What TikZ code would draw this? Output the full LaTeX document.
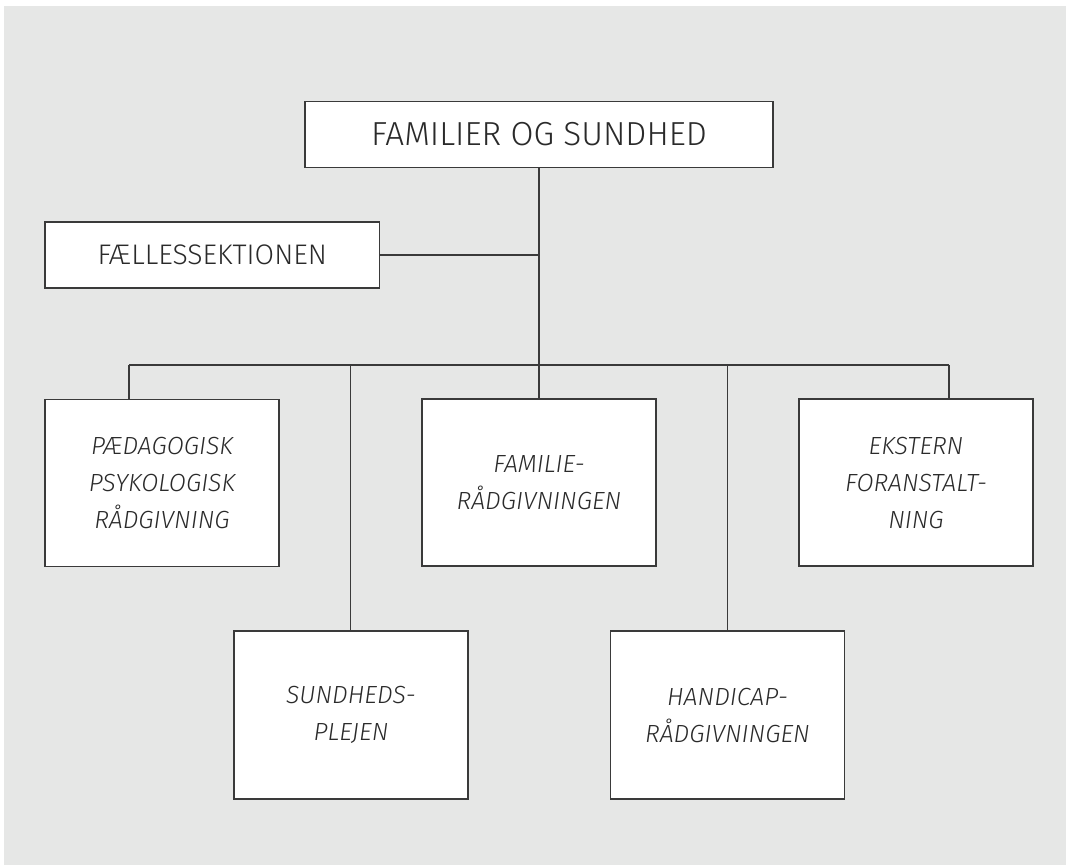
\documentclass[tikz,border=0pt]{standalone}
\usepackage{fontspec}
\setmainfont{Fira Sans Light}[ItalicFont={Fira Sans Light Italic}]
\definecolor{bg}{HTML}{E6E7E6}
\definecolor{linec}{HTML}{3A3A3A}
\definecolor{txt}{HTML}{2A2A2A}
\tikzset{
  orgbox/.style={draw=linec, fill=white, line width=1.3pt, inner sep=0pt, align=center, text=txt},
  conn/.style={draw=linec, line width=1.3pt},
  unit/.style={orgbox, minimum width=234pt, minimum height=167pt, font=\fontsize{24.8}{37}\selectfont\itshape}
}
\begin{document}
\begin{tikzpicture}[x=1pt,y=-1pt]
\useasboundingbox (0,0) rectangle (1066,865);
\fill[bg] (4,6) rectangle (1066,865);
\node[orgbox, minimum width=468pt, minimum height=66pt, font=\fontsize{33.3}{38}\selectfont] (top) at (539,134.5) {FAMILIER OG SUNDHED};
\node[orgbox, minimum width=334.5pt, minimum height=66pt, font=\fontsize{28.3}{32}\selectfont] (fael) at (212.2,255) {FÆLLESSEKTIONEN};
\node[unit] (ppr) at (162,483) {PÆDAGOGISK\\PSYKOLOGISK\\RÅDGIVNING};
\node[unit] (fam) at (539,482.5) {FAMILIE-\\RÅDGIVNINGEN};
\node[unit] (eks) at (916,482.5) {EKSTERN\\FORANSTALT-\\NING};
\node[unit, minimum height=168pt] (sun) at (351,715) {SUNDHEDS-\\PLEJEN};
\node[unit, minimum height=168pt] (han) at (727.5,715) {HANDICAP-\\RÅDGIVNINGEN};
\coordinate (bl) at (129,365);
\coordinate (br) at (949,365);
\coordinate (bs) at (350.7,365);
\coordinate (bh) at (727.7,365);
\draw[conn] (top.south) -- (fam.north);
\draw[conn] (fael.east) -- (fael.east -| top.south);
\draw[conn] (bl) -- (br);
\draw[conn] (bl) -- (bl |- ppr.north);
\draw[conn] (br) -- (br |- eks.north);
\draw[conn] (bs) -- (bs |- sun.north);
\draw[conn] (bh) -- (bh |- han.north);
\end{tikzpicture}
\end{document}
